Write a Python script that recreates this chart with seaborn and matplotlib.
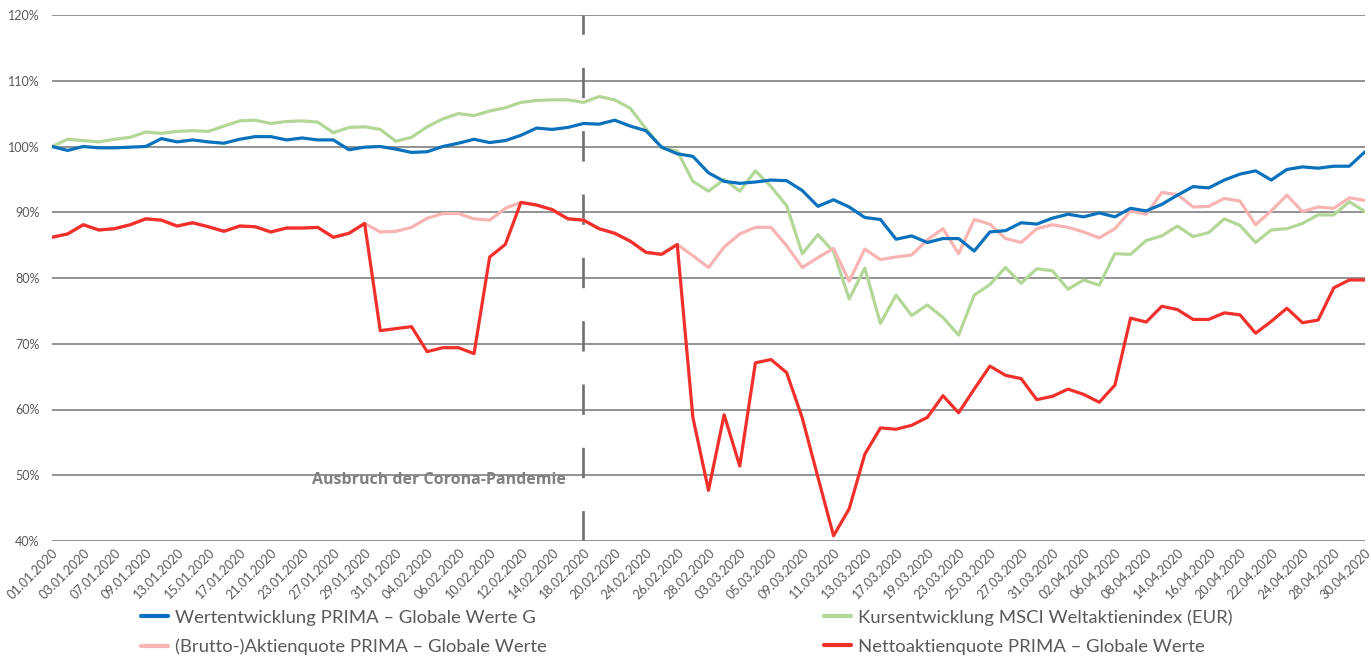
import matplotlib
matplotlib.use("Agg")
import matplotlib.pyplot as plt
from matplotlib.lines import Line2D
import pandas as pd
import seaborn as sns

# Handelstage 01.01.2020 - 30.04.2020 (ohne Karfreitag / Ostermontag)
dates = pd.bdate_range("2020-01-01", "2020-04-30")
dates = dates.drop(pd.to_datetime(["2020-04-10", "2020-04-13"]))
date_labels = [d.strftime("%d.%m.%Y") for d in dates]

wertentwicklung = [
    100.0, 99.4, 100.0, 99.8, 99.8, 99.9, 100.0, 101.2, 100.7, 101.0,
    100.7, 100.5, 101.1, 101.5, 101.5, 101.0, 101.3, 101.0, 101.0, 99.5,
    99.9, 100.0, 99.6, 99.1, 99.2, 100.0, 100.5, 101.1, 100.6, 100.9,
    101.7, 102.8, 102.6, 102.9, 103.5, 103.4, 104.0, 103.1, 102.4, 99.9,
    98.9, 98.5, 96.0, 94.7, 94.4, 94.6, 94.9, 94.8, 93.3, 90.9,
    91.9, 90.8, 89.2, 88.9, 85.9, 86.4, 85.4, 86.0, 86.0, 84.1,
    87.0, 87.2, 88.4, 88.2, 89.1, 89.7, 89.3, 89.9, 89.3, 90.6,
    90.2, 91.2, 92.6, 93.9, 93.7, 94.9, 95.8, 96.3, 94.9, 96.5,
    96.9, 96.7, 97.0, 97.0, 99.2,
]
msci = [
    100.0, 101.1, 100.9, 100.7, 101.1, 101.4, 102.2, 102.0, 102.3, 102.4,
    102.3, 103.1, 103.9, 104.0, 103.5, 103.8, 103.9, 103.7, 102.1, 102.9,
    103.0, 102.6, 100.8, 101.4, 103.0, 104.2, 105.0, 104.7, 105.4, 105.9,
    106.7, 107.0, 107.1, 107.1, 106.7, 107.6, 107.1, 105.8, 102.7, 99.8,
    99.3, 94.7, 93.2, 95.0, 93.2, 96.3, 93.9, 91.0, 83.7, 86.6,
    84.0, 76.8, 81.5, 73.1, 77.4, 74.3, 75.9, 74.0, 71.3, 77.4,
    79.0, 81.6, 79.2, 81.4, 81.1, 78.3, 79.7, 78.9, 83.7, 83.6,
    85.7, 86.4, 87.9, 86.3, 86.9, 89.0, 88.0, 85.4, 87.3, 87.5,
    88.3, 89.6, 89.6, 91.6, 90.1,
]
brutto = [
    86.2, 86.7, 88.1, 87.3, 87.5, 88.1, 89.0, 88.8, 87.9, 88.4,
    87.8, 87.1, 87.9, 87.8, 87.0, 87.6, 87.6, 87.7, 86.2, 86.8,
    88.3, 87.0, 87.1, 87.7, 89.1, 89.8, 89.8, 89.0, 88.8, 90.6,
    91.5, 91.1, 90.4, 89.0, 88.8, 87.5, 86.8, 85.6, 83.9, 83.6,
    85.1, 83.4, 81.6, 84.7, 86.7, 87.7, 87.7, 84.9, 81.6, 83.1,
    84.5, 79.5, 84.4, 82.8, 83.2, 83.5, 85.8, 87.5, 83.7, 88.9,
    88.2, 86.0, 85.4, 87.5, 88.1, 87.7, 87.0, 86.1, 87.5, 90.2,
    89.7, 93.0, 92.7, 90.8, 90.9, 92.1, 91.7, 88.1, 90.2, 92.6,
    90.1, 90.8, 90.6, 92.2, 91.8,
]
netto = [
    86.2, 86.7, 88.1, 87.3, 87.5, 88.1, 89.0, 88.8, 87.9, 88.4,
    87.8, 87.1, 87.9, 87.8, 87.0, 87.6, 87.6, 87.7, 86.2, 86.8,
    88.3, 72.0, 72.3, 72.6, 68.8, 69.4, 69.4, 68.5, 83.2, 85.1,
    91.5, 91.1, 90.4, 89.0, 88.8, 87.5, 86.8, 85.6, 83.9, 83.6,
    85.1, 58.8, 47.7, 59.2, 51.4, 67.1, 67.6, 65.6, 58.7, 49.7,
    40.8, 44.9, 53.2, 57.2, 57.0, 57.6, 58.8, 62.1, 59.5, 63.1,
    66.6, 65.2, 64.7, 61.5, 62.0, 63.1, 62.3, 61.1, 63.7, 73.9,
    73.3, 75.7, 75.2, 73.7, 73.7, 74.7, 74.4, 71.6, 73.4, 75.4,
    73.2, 73.6, 78.5, 79.7, 79.7,
]

names = [
    "Wertentwicklung PRIMA – Globale Werte G",
    "Kursentwicklung MSCI Weltaktienindex (EUR)",
    "(Brutto-)Aktienquote PRIMA – Globale Werte",
    "Nettoaktienquote PRIMA – Globale Werte",
]
colors = ["#0a72bd", "#b3d797", "#f8b4b2", "#f2302b"]
y_ticks = [40, 50, 60, 70, 80, 90, 100, 110, 120]
event_date = "18.02.2020"
event_text = "Ausbruch der Corona-Pandemie"

df = pd.DataFrame({
    "idx": range(len(date_labels)),
    names[0]: wertentwicklung,
    names[1]: msci,
    names[2]: brutto,
    names[3]: netto,
})
long = df.melt(id_vars="idx", var_name="series", value_name="value")

sns.set_style("white")
plt.rcParams["font.family"] = ["Lato", "DejaVu Sans"]
grey = "#595959"

fig = plt.figure(figsize=(13.71, 6.56), dpi=100)
ax = fig.add_axes([52 / 1371, 1 - 541 / 656, 1313 / 1371, 526 / 656])

ax.set_yticks(y_ticks)
ax.set_ylim(40, 120)
ax.yaxis.grid(True, color="#8a8a8a", linewidth=1.3, zorder=0)
ax.set_axisbelow(True)

# Zeitpunkt Corona-Ausbruch
event_idx = date_labels.index(event_date)
ax.axvline(event_idx, color="#6f6f6f", linewidth=1.9,
           linestyle=(0, (11.5, 12.5)), zorder=1)

draw_order = [names[1], names[2], names[0], names[3]]
palette = dict(zip(names, colors))
sns.lineplot(data=long, x="idx", y="value", hue="series", hue_order=draw_order,
             palette=palette, linewidth=2.3, ax=ax, legend=False, sort=False,
             zorder=3)

ax.set_xlim(0, len(date_labels) - 1)
ax.set_xticks(range(len(date_labels)))
ax.set_xticklabels([lab if i % 2 == 0 else "" for i, lab in enumerate(date_labels)],
                   rotation=45, ha="right", va="top", rotation_mode="anchor",
                   fontsize=9.2, color=grey)
ax.tick_params(axis="x", direction="in", length=4, color="#c0c0c0", pad=4)
ax.set_yticklabels([f"{v}%" for v in y_ticks], fontsize=9, color=grey)
ax.tick_params(axis="y", length=0, pad=9)
ax.set_xlabel("")
ax.set_ylabel("")
for side in ["top", "right", "left", "bottom"]:
    ax.spines[side].set_visible(False)

ax.text(event_idx - 1.15, 49.3, event_text, ha="right", va="center",
        fontsize=11.5, fontweight="bold", color="#808080",
        family=["Open Sans", "DejaVu Sans"])

handles = [Line2D([], [], color=palette[n], linewidth=3) for n in
           [names[0], names[2], names[1], names[3]]]
leg = fig.legend(handles, [names[0], names[2], names[1], names[3]], ncol=2,
                 loc="upper left", bbox_to_anchor=(141 / 1371, 1 - 609 / 656),
                 frameon=False, fontsize=13.3, handlelength=1.45,
                 handletextpad=0.4, columnspacing=15.0, labelspacing=0.72,
                 borderpad=0, borderaxespad=0)
for t in leg.get_texts():
    t.set_color(grey)

fig.savefig("out.png", dpi=100)
